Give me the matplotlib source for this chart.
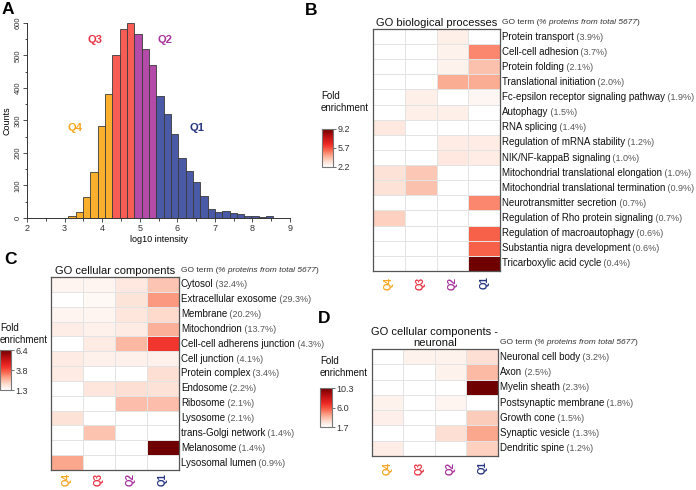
import numpy as np
import matplotlib
matplotlib.use('Agg')
import matplotlib.pyplot as plt
from matplotlib.colors import LinearSegmentedColormap

plt.rcParams['font.family'] = ['Liberation Sans', 'DejaVu Sans']

W, H = 696, 490
nan = np.nan

# --- panel A data ---
hist_start = 3.1
hist_width = 0.195
hist_counts = [5, 18, 64, 141, 283, 383, 503, 583, 601, 565, 521, 471, 374, 321,
               258, 186, 144, 112, 67, 28, 17, 20, 14, 12, 5, 7, 3, 5]
hist_groups = ['Q4'] * 6 + ['Q3'] * 3 + ['Q2'] * 3 + ['Q1'] * 16

quartiles = ['Q4', 'Q3', 'Q2', 'Q1']
bar_colors = {'Q4': '#fbb02d', 'Q3': '#f75c55', 'Q2': '#b44ba8', 'Q1': '#4a5aa6'}
label_colors = {'Q4': '#f5a623', 'Q3': '#e63343', 'Q2': '#a8329c', 'Q1': '#27357f'}

# --- panel B data ---
bp_terms = ['Protein transport', 'Cell-cell adhesion', 'Protein folding',
            'Translational initiation', 'Fc-epsilon receptor signaling pathway',
            'Autophagy', 'RNA splicing', 'Regulation of mRNA stability',
            'NIK/NF-kappaB signaling', 'Mitochondrial translational elongation',
            'Mitochondrial translational termination', 'Neurotransmitter secretion',
            'Regulation of Rho protein signaling', 'Regulation of macroautophagy',
            'Substantia nigra development', 'Tricarboxylic acid cycle']
bp_pct = ['3.9', '3.7', '2.1', '2.0', '1.9', '1.5', '1.4', '1.2', '1.0', '1.0',
          '0.9', '0.7', '0.7', '0.6', '0.6', '0.4']
bp_fold = [[nan, nan, 2.7, nan],
           [nan, nan, 2.6, 4.8],
           [nan, nan, 2.6, 3.8],
           [nan, nan, 4.2, 4.2],
           [nan, 2.7, nan, 2.5],
           [nan, 2.7, 2.7, nan],
           [2.9, nan, nan, nan],
           [nan, nan, 2.8, 2.8],
           [nan, nan, 2.9, 2.8],
           [3.1, 3.7, nan, nan],
           [3.1, 3.8, nan, nan],
           [nan, nan, nan, 4.8],
           [3.5, nan, nan, nan],
           [nan, nan, nan, 5.4],
           [nan, nan, nan, 5.4],
           [nan, nan, nan, 9.2]]
bp_ticks = [2.2, 5.7, 9.2]

# --- panel C data ---
cc_terms = ['Cytosol', 'Extracellular exosome', 'Membrane', 'Mitochondrion',
            'Cell-cell adherens junction', 'Cell junction', 'Protein complex',
            'Endosome', 'Ribosome', 'Lysosome', 'trans-Golgi network',
            'Melanosome', 'Lysosomal lumen']
cc_pct = ['32.4', '29.3', '20.2', '13.7', '4.3', '4.1', '3.4', '2.2', '2.1',
          '2.1', '1.4', '1.4', '0.9']
cc_fold = [[1.55, 1.55, 1.8, 2.4],
           [nan, 1.45, 1.9, 3.0],
           [1.55, 1.55, 1.85, 2.1],
           [1.7, 1.6, 1.75, 2.7],
           [nan, 1.75, 2.6, 4.2],
           [1.75, 1.6, 1.6, 1.6],
           [1.75, nan, nan, 2.0],
           [nan, 1.85, 2.0, 1.95],
           [nan, nan, 2.5, 2.5],
           [1.95, nan, nan, nan],
           [nan, 2.45, nan, nan],
           [nan, nan, nan, 6.4],
           [2.85, nan, nan, nan]]
cc_ticks = [1.3, 3.8, 6.4]

# --- panel D data ---
nc_terms = ['Neuronal cell body', 'Axon', 'Myelin sheath', 'Postsynaptic membrane',
            'Growth cone', 'Synaptic vesicle', 'Dendritic spine']
nc_pct = ['3.2', '2.5', '2.3', '1.8', '1.5', '1.3', '1.2']
nc_fold = [[nan, 2.2, 2.2, 2.9],
           [nan, nan, 2.2, 3.85],
           [nan, nan, nan, 10.3],
           [2.2, nan, 2.1, nan],
           [2.3, nan, nan, 3.4],
           [nan, nan, 2.9, 4.3],
           [2.4, nan, nan, 3.3]]
nc_ticks = [1.7, 6.0, 10.3]

cmap = LinearSegmentedColormap.from_list(
    'fold', [(0, '#ffffff'), (0.15, '#fddccf'), (0.3, '#fba88e'),
             (0.45, '#f8644c'), (0.6, '#ee2a25'), (0.8, '#bb0f12'),
             (1.0, '#6e0000')])


def box(x0, y0, x1, y1):
    return [x0 / W, 1 - y1 / H, (x1 - x0) / W, (y1 - y0) / H]


def fx(x):
    return x / W


def fy(y):
    return 1 - y / H


fig = plt.figure(figsize=(6.96, 4.90), dpi=100)

# ---------------- A: histogram ----------------
ax = fig.add_axes(box(27, 23, 290, 218))
lefts = [hist_start + i * hist_width for i in range(len(hist_counts))]
ax.bar(lefts, hist_counts, width=hist_width, align='edge',
       color=[bar_colors[g] for g in hist_groups], edgecolor='#3a3a3a', linewidth=0.6)
ax.set_xlim(2, 9)
ax.set_ylim(0, 600)
ax.set_xticks(range(2, 10))
ax.set_xticks(np.arange(2, 9, 0.5), minor=True)
ax.set_yticks(range(0, 601, 100))
ax.set_yticks(range(0, 601, 50), minor=True)
ax.tick_params(labelsize=6.5, colors='#333333', length=3, width=0.6, pad=1.5)
ax.tick_params(axis='y', labelsize=5.5, pad=1)
ax.tick_params(which='minor', length=1.8, width=0.5)
ax.tick_params(axis='y', labelrotation=90)
for lbl in ax.get_yticklabels():
    lbl.set_va('center')
for s in ['top', 'right']:
    ax.spines[s].set_visible(False)
for s in ['left', 'bottom']:
    ax.spines[s].set_linewidth(0.7)
    ax.spines[s].set_color('#333333')
ax.set_ylabel('Counts', fontsize=6.5, labelpad=2)
ax.set_xlabel('log10 intensity', fontsize=6.5, labelpad=1)
for q, x, y in [('Q3', 3.82, 547), ('Q2', 5.66, 547), ('Q4', 3.28, 276), ('Q1', 6.52, 276)]:
    ax.text(x, y, q, color=label_colors[q], fontsize=8, fontweight='bold',
            ha='center', va='center')


# ---------------- heatmap helper ----------------
def heatmap(pos, terms, pcts, fold, ticks, title, cb_pos, fold_xy, qpad):
    hx = fig.add_axes(box(*pos))
    data = np.nan_to_num(np.array(fold, dtype=float), nan=0.0)
    mesh = hx.pcolormesh(data, cmap=cmap, vmin=ticks[0], vmax=ticks[-1],
                         edgecolors='#e3e3e3', linewidth=0.5)
    hx.set_xlim(0, 4)
    hx.set_ylim(len(terms), 0)
    hx.set_yticks([])
    hx.set_xticks(np.arange(4) + 0.5)
    hx.set_xticklabels(quartiles, rotation=90, fontsize=7, fontweight='bold')
    for lbl, q in zip(hx.get_xticklabels(), quartiles):
        lbl.set_color(label_colors[q])
    hx.tick_params(axis='x', length=0, pad=qpad)
    for s in hx.spines.values():
        s.set_color('#555555')
        s.set_linewidth(0.9)

    for i, (t, p) in enumerate(zip(terms, pcts)):
        name = hx.text(1.015, i + 0.5, t, transform=hx.get_yaxis_transform(),
                       fontsize=7, va='center', ha='left', color='#111111')
        hx.annotate(' (' + p + '%)', xy=(1, 0), xycoords=name, va='bottom',
                    fontsize=6.5, color='#555555')

    # header
    h1 = hx.text(1.015, 1.0 + 3.0 / (pos[3] - pos[1]), 'GO term (',
                 transform=hx.transAxes, fontsize=6, color='#333333',
                 va='bottom', ha='left')
    h2 = hx.annotate('% proteins from total 5677', xy=(1, 0), xycoords=h1,
                     va='bottom', fontsize=6, style='italic', color='#333333')
    hx.annotate(')', xy=(1, 0), xycoords=h2, va='bottom', fontsize=6, color='#333333')

    hx.set_title(title, fontsize=8, pad=2, color='#111111', linespacing=1.15)

    cax = fig.add_axes(box(*cb_pos))
    cb = fig.colorbar(mesh, cax=cax, ticks=ticks)
    cb.ax.set_yticklabels(['%.1f' % v for v in ticks])
    cb.ax.tick_params(labelsize=6.5, length=2, width=0.5, pad=1, colors='#333333')
    cb.outline.set_edgecolor('#777777')
    cb.outline.set_linewidth(0.8)
    fig.text(fx(fold_xy[0]), fy(fold_xy[1]), 'Fold\nenrichment', fontsize=7,
             ha='left', va='top', linespacing=1.3, color='#111111')


heatmap((373, 29, 500, 271), bp_terms, bp_pct, bp_fold, bp_ticks,
        'GO biological processes', (322, 129, 333, 167), (321, 91), 4)
heatmap((51, 277, 179, 470), cc_terms, cc_pct, cc_fold, cc_ticks,
        'GO cellular components', (0, 350, 11, 390), (0, 323), 2)
heatmap((372, 349, 498, 456), nc_terms, nc_pct, nc_fold, nc_ticks,
        'GO cellular components -\nneuronal', (320, 388, 332, 427), (320, 356), 4)

# panel letters
for letter, x, y in [('A', 2, 2), ('B', 305, 3), ('C', 4, 252), ('D', 318, 311)]:
    fig.text(fx(x), fy(y), letter, fontsize=12.5, fontweight='bold', ha='left', va='top')

fig.savefig('out.png', dpi=100)
